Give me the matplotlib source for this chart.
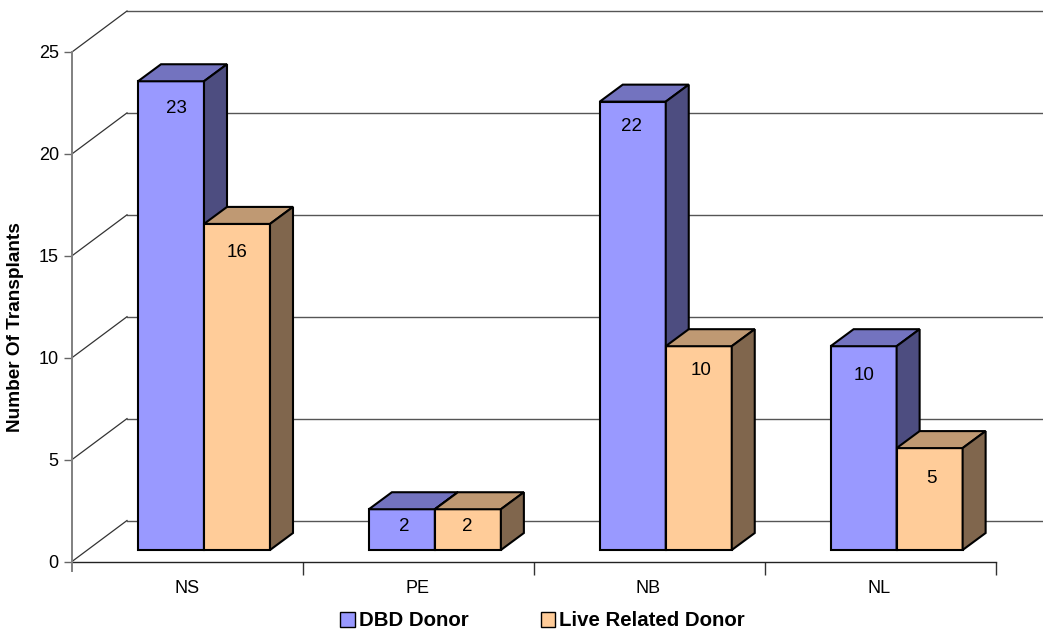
import matplotlib
matplotlib.use('Agg')
import matplotlib.pyplot as plt
from matplotlib.patches import Polygon, Patch

plt.rcParams['font.family'] = ['Liberation Sans', 'DejaVu Sans']

# values
provinces = ['NS', 'PE', 'NB', 'NL']
dbd_donor = [23, 2, 22, 10]
live_related = [16, 2, 10, 5]
y_ticks = [0, 5, 10, 15, 20, 25]

# where the value labels sit relative to each bar, in pixels
dbd_label_dx = [5, 2, -1, 0]
dbd_label_drop = [27, 17, 25, 29]
live_label_dx = [0, -1, 2, 2]
live_label_drop = [29, 17, 24, 30]

# fill, top, side colours
dbd_cols = ('#9999FF', '#7373BF', '#4D4D80')
live_cols = ('#FFCC99', '#BF9973', '#80664D')

W, H = 1043, 633
x0, x1 = 72, 995.5
y0, y25 = 561.5, 52
px = (x1 - x0) / 4          # pixels per category
py = (y0 - y25) / 25        # pixels per unit

fig = plt.figure(figsize=(W / 100, H / 100), dpi=100)
ax = fig.add_axes([x0 / W, 1 - y0 / H, (x1 - x0) / W, (y0 - y25) / H])
ax.set_xlim(0, 4)
ax.set_ylim(0, 25)
for s in ax.spines.values():
    s.set_visible(False)

# depth of the back wall and of the bars, in data units
wall_dx, wall_dy = 55 / px, 41 / py
bar_dx, bar_dy = 23 / px, 17 / py
base_dy = 11.5 / py
bar_w = 66 / px

# back wall gridlines and the diagonals that run to them
for v in y_ticks:
    ax.plot([wall_dx, 1043 / px], [v + wall_dy, v + wall_dy], color='#555555', lw=1.0,
            clip_on=False, zorder=1)
    ax.plot([0, wall_dx], [v, v + wall_dy], color='#333333', lw=0.9, clip_on=False, zorder=1)

# axes
ax.plot([0, 4], [0, 0], color='#222222', lw=1.0, clip_on=False, zorder=2)
ax.set_yticks(y_ticks)
ax.set_xticks([1, 2, 3, 4])
ax.set_xticklabels([])
ax.plot([0, 0], [-9 / py, 25], color='#808080', lw=1.4, clip_on=False, zorder=2)
ax.tick_params(axis='y', length=6, width=1.0, color='#666666', labelsize=13, pad=3.5)
ax.tick_params(axis='x', length=9, width=1.0, color='#333333', pad=0)
for i, p in enumerate(provinces):
    ax.annotate(p, (i + 0.497, 0), xytext=(0, -22.5), textcoords='offset points',
                ha='center', va='baseline', fontsize=13, annotation_clip=False)
ax.set_ylabel('Number Of Transplants', fontsize=13.7, fontweight='bold')
ax.yaxis.set_label_coords(-48 / (x1 - x0), 0.46)


def bar3d(left, val, cols, label_dx, label_drop):
    right = left + bar_w
    bot = base_dy
    top = bot + val
    kw = dict(edgecolor='black', lw=1.5, joinstyle='miter', zorder=3)
    ax.add_patch(Polygon([(left, bot), (right, bot), (right, top), (left, top)], facecolor=cols[0], **kw))
    ax.add_patch(Polygon([(left, top), (right, top), (right + bar_dx, top + bar_dy), (left + bar_dx, top + bar_dy)],
                         facecolor=cols[1], **kw))
    ax.add_patch(Polygon([(right, bot), (right + bar_dx, bot + bar_dy), (right + bar_dx, top + bar_dy), (right, top)],
                         facecolor=cols[2], **kw))
    # offsets are in points here, 1 pt = 100/72 px
    ax.annotate(str(val), ((left + right) / 2, top), xytext=(label_dx * 0.72, -label_drop * 0.72),
                textcoords='offset points', ha='center', va='center', fontsize=13.5, zorder=6)


for i in range(4):
    left = i + 66 / px
    bar3d(left, dbd_donor[i], dbd_cols, dbd_label_dx[i], dbd_label_drop[i])
    bar3d(left + bar_w, live_related[i], live_cols, live_label_dx[i], live_label_drop[i])

handles = [Patch(facecolor=dbd_cols[0], edgecolor='black', lw=1.0),
           Patch(facecolor=live_cols[0], edgecolor='black', lw=1.0)]
fig.legend(handles, ['DBD Donor', 'Live Related Donor'], loc='center', bbox_to_anchor=(542.5 / W, 1 - 621 / H),
           ncol=2, frameon=False, prop={'size': 14.7, 'weight': 'bold'}, handlelength=0.7, handleheight=0.7,
           handletextpad=0.2, columnspacing=3.55, borderpad=0, borderaxespad=0)

fig.savefig('out.png', dpi=100)
